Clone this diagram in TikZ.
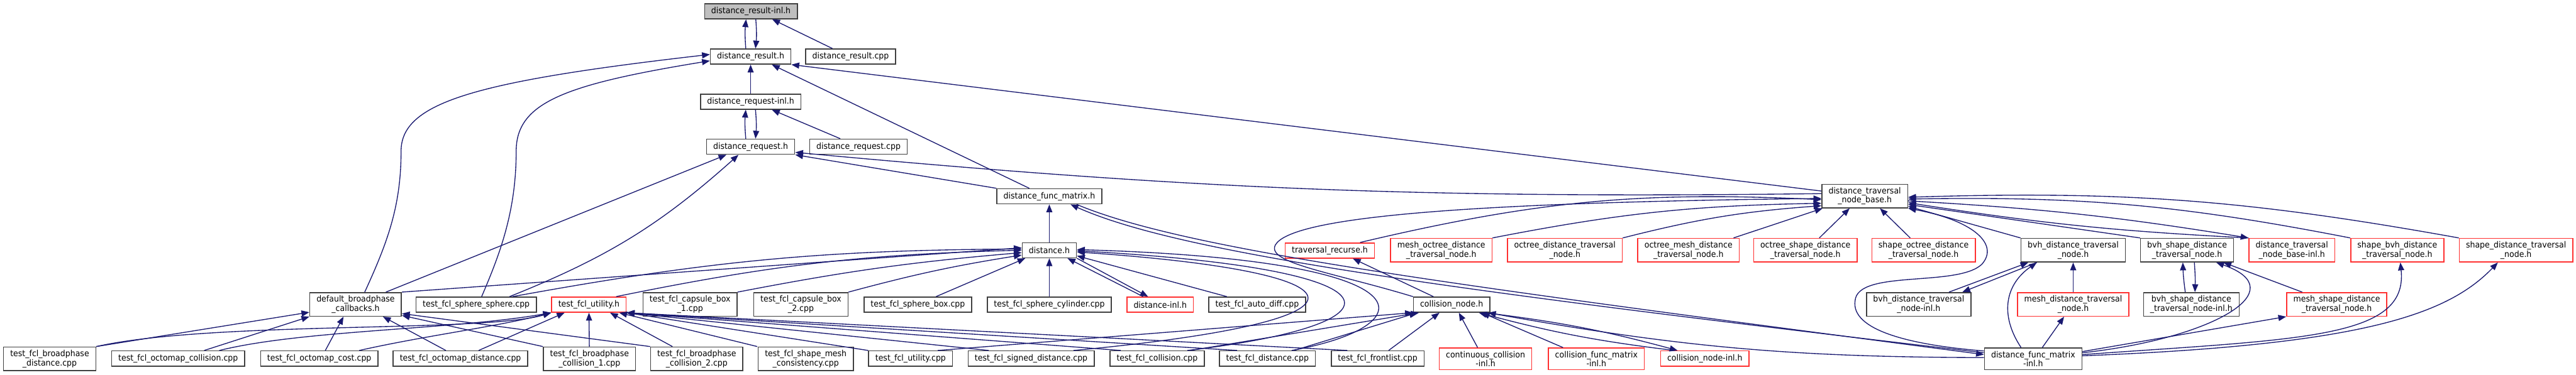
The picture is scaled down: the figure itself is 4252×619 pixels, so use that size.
\documentclass[tikz,border=0pt]{standalone}
\usepackage{fontspec}
\setmainfont{DejaVu Sans}[FakeStretch=0.93]
\usetikzlibrary{arrows.meta}
\definecolor{edgeblue}{HTML}{191970}
\definecolor{boxgrey}{HTML}{404040}
\definecolor{truncred}{HTML}{FF3030}
\definecolor{rootgrey}{HTML}{BFBFBF}

\begin{document}
\begin{tikzpicture}[
x=0.01cm, y=0.01cm,
file/.style={rectangle, draw=boxgrey, line width=0.016cm, fill=white, align=center,
  font=\fontsize{3.98pt}{4.27pt}\selectfont, inner xsep=0.11cm, inner ysep=0.05cm, minimum height=0.25cm},
trunc/.style={file, draw=truncred},
rootfile/.style={file, fill=rootgrey},
edge/.style={draw=edgeblue, line width=0.014cm, -{Triangle[length=0.13cm, width=0.1cm]}}
]
\useasboundingbox (0,0) rectangle (4252,-619);

% rows 1-5
\node[rootfile] (root) at (1239.5,-18.5) {distance\_result-inl.h};
\node[file] (res) at (1239,-93.5) {distance\_result.h};
\node[file] (rescpp) at (1404,-93.5) {distance\_result.cpp};
\node[file] (reqinl) at (1239,-168) {distance\_request-inl.h};
\node[file] (req) at (1239,-242.5) {distance\_request.h};
\node[file] (reqcpp) at (1417,-242.5) {distance\_request.cpp};
\node[file] (dfm) at (1732,-324.5) {distance\_func\_matrix.h};
\node[file] (dtnb) at (3078,-324) {distance\_traversal\\\_node\_base.h};

% row 6
\node[file] (dist) at (1732,-413.5) {distance.h};
\node[trunc] (trec) at (2195,-414) {traversal\_recurse.h};
\node[trunc] (meshoct) at (2379,-413.5) {mesh\_octree\_distance\\\_traversal\_node.h};
\node[trunc] (octdist) at (2583,-413.5) {octree\_distance\_traversal\\\_node.h};
\node[trunc] (octmesh) at (2787,-413.5) {octree\_mesh\_distance\\\_traversal\_node.h};
\node[trunc] (octshape) at (2980,-413.5) {octree\_shape\_distance\\\_traversal\_node.h};
\node[trunc] (shapeoct) at (3175,-413.5) {shape\_octree\_distance\\\_traversal\_node.h};
\node[file] (bvhdist) at (3422,-413.5) {bvh\_distance\_traversal\\\_node.h};
\node[file] (bvhshape) at (3610,-413.5) {bvh\_shape\_distance\\\_traversal\_node.h};
\node[trunc] (dtnbinl) at (3783,-413.5) {distance\_traversal\\\_node\_base-inl.h};
\node[trunc] (shapebvh) at (3957,-413.5) {shape\_bvh\_distance\\\_traversal\_node.h};
\node[trunc] (shapedist) at (4153,-413.5) {shape\_distance\_traversal\\\_node.h};

% row 7
\node[file] (dbc) at (587,-503) {default\_broadphase\\\_callbacks.h};
\node[file] (spsp) at (786,-503.5) {test\_fcl\_sphere\_sphere.cpp};
\node[trunc] (tfu) at (972,-503.5) {test\_fcl\_utility.h};
\node[file] (cap1) at (1139,-503) {test\_fcl\_capsule\_box\\\_1.cpp};
\node[file] (cap2) at (1322,-503) {test\_fcl\_capsule\_box\\\_2.cpp};
\node[file] (spbox) at (1515,-503.5) {test\_fcl\_sphere\_box.cpp};
\node[file] (spcyl) at (1732,-503.5) {test\_fcl\_sphere\_cylinder.cpp};
\node[trunc] (distinl) at (1915,-503.5) {distance-inl.h};
\node[file] (autodiff) at (2075,-503.5) {test\_fcl\_auto\_diff.cpp};
\node[file] (cnode) at (2396,-503.5) {collision\_node.h};
\node[file] (bvhdistinl) at (3167,-503) {bvh\_distance\_traversal\\\_node-inl.h};
\node[trunc] (meshdist) at (3422,-503) {mesh\_distance\_traversal\\\_node.h};
\node[file] (bvhshapeinl) at (3617,-503) {bvh\_shape\_distance\\\_traversal\_node-inl.h};
\node[trunc] (meshshape) at (3857,-503) {mesh\_shape\_distance\\\_traversal\_node.h};

% row 8
\node[file] (bpd) at (82,-593) {test\_fcl\_broadphase\\\_distance.cpp};
\node[file] (omcol) at (294,-592.5) {test\_fcl\_octomap\_collision.cpp};
\node[file] (omcost) at (527,-592.5) {test\_fcl\_octomap\_cost.cpp};
\node[file] (omdist) at (760,-592.5) {test\_fcl\_octomap\_distance.cpp};
\node[file] (bpc1) at (973,-593) {test\_fcl\_broadphase\\\_collision\_1.cpp};
\node[file] (bpc2) at (1150,-593) {test\_fcl\_broadphase\\\_collision\_2.cpp};
\node[file] (smc) at (1330,-593) {test\_fcl\_shape\_mesh\\\_consistency.cpp};
\node[file] (tfucpp) at (1503,-592.5) {test\_fcl\_utility.cpp};
\node[file] (sdist) at (1702,-592.5) {test\_fcl\_signed\_distance.cpp};
\node[file] (tcol) at (1910,-592.5) {test\_fcl\_collision.cpp};
\node[file] (tdist) at (2092,-592.5) {test\_fcl\_distance.cpp};
\node[file] (tfront) at (2274,-592.5) {test\_fcl\_frontlist.cpp};
\node[trunc] (ccinl) at (2452,-593) {continuous\_collision\\-inl.h};
\node[trunc] (cfminl) at (2635,-593) {collision\_func\_matrix\\-inl.h};
\node[trunc] (cninl) at (2814,-592.5) {collision\_node-inl.h};
\node[file] (dfminl) at (3356,-593) {distance\_func\_matrix\\-inl.h};

% result / request
\draw[edge] ([xshift=-0.08cm]res.north) to[bend left=5] ([xshift=-0.08cm]root.south);
\draw[edge] ([xshift=0.08cm]root.south) to[bend left=5] ([xshift=0.08cm]res.north);
\draw[edge] ([xshift=-0.3cm]rescpp.north) -- ([xshift=0.35cm]root.south);
\draw[edge] (reqinl) -- (res);
\draw[edge] ([xshift=-0.08cm]req.north) to[bend left=5] ([xshift=-0.08cm]reqinl.south);
\draw[edge] ([xshift=0.08cm]reqinl.south) to[bend left=5] ([xshift=0.08cm]req.north);
\draw[edge] ([xshift=-0.3cm]reqcpp.north) -- ([xshift=0.35cm]reqinl.south);
\draw[edge] ([xshift=0.15cm]dbc.north) .. controls (640,-400) and (662,-340) .. (662,-250) .. controls (662,-170) and (780,-135) .. ([yshift=0.035cm]res.west);
\draw[edge] ([xshift=0.09cm]spsp.north) .. controls (825,-420) and (852,-350) .. (852,-250) .. controls (852,-170) and (930,-140) .. ([yshift=-0.07cm]res.west);
\draw[edge] ([xshift=0.5cm]dbc.north) -- ([xshift=-0.4cm]req.south);
\draw[edge] ([xshift=0.55cm]spsp.north) to[bend right=10] ([xshift=-0.2cm]req.south);
\draw[edge] ([xshift=-0.33cm]dfm.north) -- ([xshift=0.35cm]res.south);
\draw[edge] (dfm.north west) -- (req.south east);
\draw[edge] ([yshift=-0.12cm]dtnb.north west) -- (res.south east);
\draw[edge] ([yshift=0.04cm]dtnb.west) to[bend left=3] ([yshift=0.04cm]req.south east);

% distance_func_matrix
\draw[edge] (dist) -- (dfm);
\draw[edge] ([yshift=0.1cm]dfminl.west) .. controls (2400,-480) and (1950,-420) .. ([xshift=0.35cm]dfm.south);
\draw[edge] ([xshift=0.45cm]dfm.south) .. controls (1960,-415) and (2410,-472) .. ([yshift=0.07cm]dfminl.west);

% distance.h
\draw[edge] (dbc.north east) -- ([yshift=0.04cm]dist.west);
\draw[edge] ([xshift=0.6cm]spsp.north) to[bend left=5] ([yshift=0.02cm]dist.west);
\draw[edge] ([xshift=0.45cm]tfu.north) to[bend left=5] (dist.west);
\draw[edge] (cap1.north east) to[bend left=3] ([yshift=-0.04cm]dist.west);
\draw[edge] (cap2.north east) to[bend left=3] ([yshift=-0.08cm]dist.west);
\draw[edge] ([xshift=0.3cm]spbox.north) -- ([xshift=0.06cm]dist.south west);
\draw[edge] (spcyl) -- (dist);
\draw[edge] ([xshift=-0.28cm]distinl.north) -- ([xshift=0.3cm]dist.south);
\draw[edge] (dist.south east) -- ([xshift=-0.2cm]distinl.north);
\draw[edge] ([xshift=-0.5cm]autodiff.north) -- ([yshift=0.04cm]dist.south east);
\draw[edge] ([xshift=0.7cm]sdist.north) .. controls (2300,-530) and (2270,-450) .. ([yshift=-0.03cm]dist.east);
\draw[edge] ([xshift=0.5cm]tcol.north) .. controls (2330,-535) and (2330,-445) .. ([yshift=-0.01cm]dist.east);
\draw[edge] ([xshift=0.4cm]tdist.north) .. controls (2350,-540) and (2380,-430) .. ([yshift=0.01cm]dist.east);

% collision_node.h
\draw[edge] ([xshift=-0.3cm]cnode.north) -- ([xshift=0.38cm]trec.south);
\draw[edge] (cnode.north west) .. controls (2200,-450) and (2090,-435) .. (2105,-405) .. controls (2130,-360) and (2400,-335) .. ([yshift=-0.04cm]dtnb.west);
\draw[edge] ([xshift=0.45cm]tfucpp.north) -- (cnode.south west);
\draw[edge] ([xshift=0.55cm]tcol.north) -- ([xshift=0.1cm]cnode.south west);
\draw[edge] ([xshift=0.44cm]tdist.north) -- ([xshift=0.07cm]cnode.south west);
\draw[edge] ([xshift=0.18cm]tfront.north) -- ([xshift=-0.2cm]cnode.south);
\draw[edge] ([xshift=-0.13cm]ccinl.north) -- ([xshift=0.12cm]cnode.south);
\draw[edge] ([xshift=-0.55cm]cfminl.north) -- ([xshift=0.5cm]cnode.south);
\draw[edge] ([xshift=0.55cm]cnode.south) to[bend left=4] ([xshift=-0.45cm]cninl.north);
\draw[edge] ([xshift=-0.5cm]cninl.north) to[bend left=4] ([xshift=0.45cm]cnode.south);
\draw[edge] ([yshift=0.02cm]dfminl.west) to[bend left=5] ([xshift=0.6cm]cnode.south);

% distance_traversal_node_base.h
\draw[edge] ([xshift=0.5cm]trec.north) to[bend left=8] ([yshift=-0.06cm]dtnb.west);
\draw[edge] (meshoct.north east) to[bend left=5] ([yshift=-0.12cm]dtnb.west);
\draw[edge] (octdist.north east) to[bend left=5] ([yshift=-0.16cm]dtnb.west);
\draw[edge] ([xshift=-0.1cm]octmesh.north east) -- ([xshift=0.02cm]dtnb.south west);
\draw[edge] ([xshift=0.23cm]octshape.north) -- ([xshift=-0.25cm]dtnb.south);
\draw[edge] ([xshift=-0.22cm]shapeoct.north) -- ([xshift=0.25cm]dtnb.south);
\draw[edge] (bvhdist.north west) -- ([yshift=-0.17cm]dtnb.east);
\draw[edge] (bvhshape.north west) -- ([yshift=-0.14cm]dtnb.east);
\draw[edge] ([yshift=-0.08cm]dtnb.east) to[bend left=3] (dtnbinl.north west);
\draw[edge] (dtnbinl.north west) to[bend left=3] ([yshift=-0.11cm]dtnb.east);
\draw[edge] (shapebvh.north west) to[bend right=6] ([yshift=-0.05cm]dtnb.east);
\draw[edge] (shapedist.north west) to[bend right=6] ([yshift=-0.02cm]dtnb.east);
\draw[edge] ([yshift=0.13cm]dfminl.west) .. controls (3150,-570) and (3055,-545) .. (3062,-497) .. controls (3066,-445) and (3230,-475) .. (3271,-437) .. controls (3300,-405) and (3260,-365) .. (dtnb.south east);

% bvh nodes
\draw[edge] ([xshift=-0.2cm]dfminl.north) .. controls (3300,-520) and (3310,-470) .. ([xshift=-0.6cm]bvhdist.south);
\draw[edge] ([xshift=0.15cm]dfminl.north) -- ([xshift=-0.15cm]meshdist.south);
\draw[edge] (meshdist) -- (bvhdist);
\draw[edge] ([xshift=0.5cm]bvhdistinl.north) -- ([xshift=-0.74cm]bvhdist.south);
\draw[edge] ([xshift=-0.6cm]bvhdist.south) -- ([xshift=0.72cm]bvhdistinl.north);
\draw[edge] ([xshift=-0.1cm]bvhshapeinl.north) to[bend left=3] ([xshift=-0.07cm]bvhshape.south);
\draw[edge] ([xshift=0.12cm]bvhshape.south) to[bend left=3] ([xshift=0.06cm]bvhshapeinl.north);
\draw[edge] ([xshift=-0.57cm]meshshape.north) -- ([xshift=0.6cm]bvhshape.south);
\draw[edge] ([yshift=0.12cm]dfminl.east) -- (meshshape.south west);
\draw[edge] ([yshift=0.1cm]dfminl.east) .. controls (3650,-560) and (3790,-480) .. ([xshift=0.48cm]bvhshape.south);
\draw[edge] ([yshift=0.07cm]dfminl.east) .. controls (3800,-560) and (3975,-560) .. ([xshift=0.05cm]shapebvh.south);
\draw[edge] ([yshift=0.05cm]dfminl.east) .. controls (3900,-570) and (4040,-520) .. ([xshift=-0.3cm]shapedist.south);

% tests on the left
\draw[edge] (bpd.north east) -- ([yshift=-0.13cm]dbc.west);
\draw[edge] (bpd.north east) .. controls (350,-530) and (800,-550) .. (tfu.south west);
\draw[edge] ([xshift=0.43cm]omcol.north) -- (dbc.south west);
\draw[edge] ([xshift=0.68cm]omcol.north) .. controls (500,-545) and (750,-545) .. (tfu.south west);
\draw[edge] ([xshift=0.1cm]omcost.north) -- ([xshift=-0.2cm]dbc.south);
\draw[edge] ([xshift=0.66cm]omcost.north) .. controls (700,-555) and (820,-540) .. (tfu.south west);
\draw[edge] ([xshift=-0.24cm]omdist.north) -- ([xshift=0.45cm]dbc.south);
\draw[edge] ([xshift=0.3cm]omdist.north) -- ([xshift=-0.4cm]tfu.south);
\draw[edge] (bpc1.north west) -- ([yshift=0.02cm]dbc.south east);
\draw[edge] (bpc2.north west) -- ([yshift=0.05cm]dbc.south east);
\draw[edge] (bpc1) -- (tfu);
\draw[edge] ([xshift=-0.4cm]bpc2.north) -- ([xshift=0.35cm]tfu.south);
\draw[edge] ([xshift=-0.8cm]smc.north) -- ([xshift=0.5cm]tfu.south);
\draw[edge] (tfucpp.north west) -- (tfu.south east);
\draw[edge] ([xshift=-0.7cm]sdist.north) -- (tfu.south east);
\draw[edge] ([xshift=-0.6cm]tcol.north) -- (tfu.south east);
\draw[edge] ([xshift=-0.5cm]tdist.north) -- (tfu.south east);
\draw[edge] ([xshift=-0.5cm]tfront.north) -- (tfu.south east);
\end{tikzpicture}
\end{document}
